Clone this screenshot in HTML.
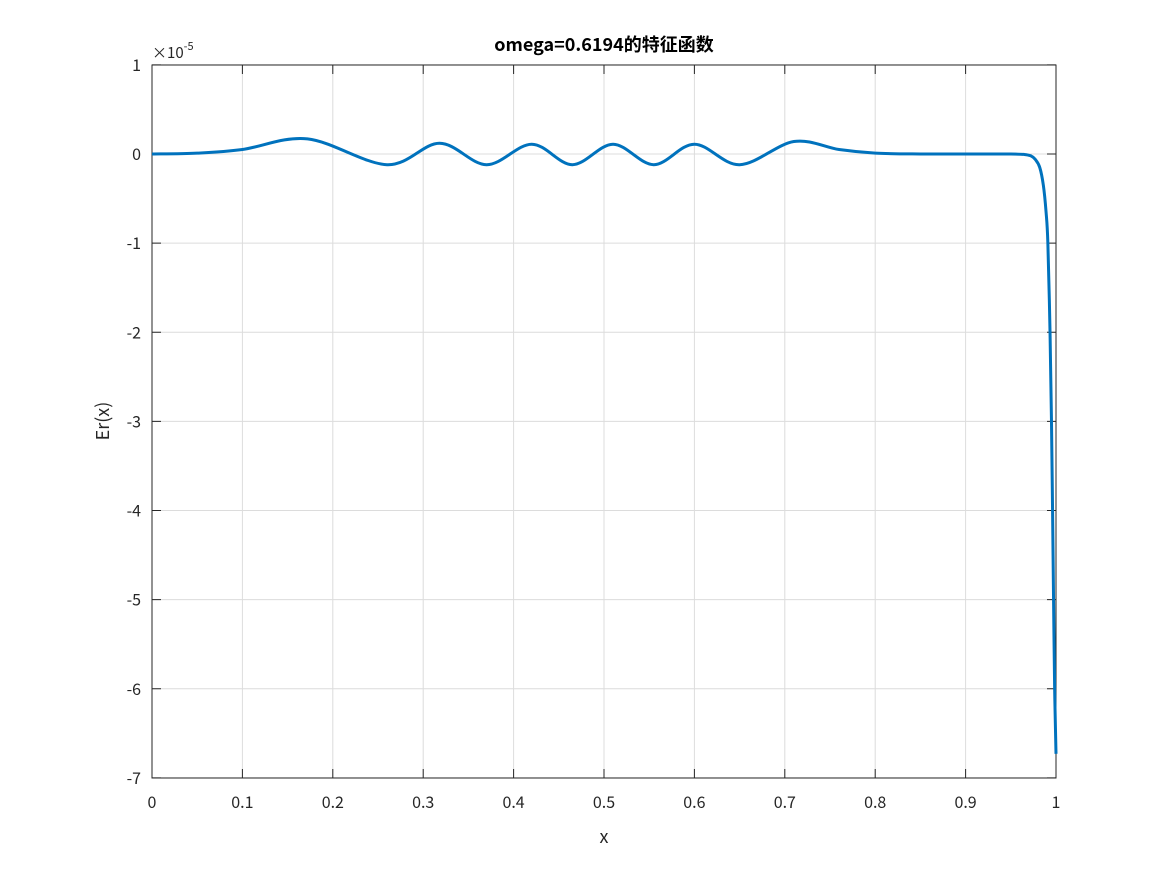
<!DOCTYPE html>
<html><head><meta charset="utf-8"><style>
body{margin:0;background:#fff;}
svg text{font-family:"Noto Sans CJK SC","Liberation Sans",sans-serif;fill:#262626;}
</style></head><body>
<svg width="1167" height="875">
<rect width="1167" height="875" fill="#fff"/>
<g id="grid"></g>
<g id="ticks"></g>
<rect x="152" y="65" width="904" height="713" fill="none" stroke="#262626" stroke-width="1"/>
<path id="curve" fill="none" stroke="#0072bd" stroke-width="3"/>
<text x="604" y="51" text-anchor="middle" font-size="18" font-weight="bold" style="fill:#000">omega=0.6194的特征函数</text>
<text x="604" y="843" text-anchor="middle" font-size="18">x</text>
<text transform="translate(109,421) rotate(-90)" text-anchor="middle" font-size="18">Er(x)</text>
<text x="152" y="58" font-size="15">×10<tspan dy="-8" font-size="11">-5</tspan></text>
</svg>
<script>
const xTicks=[0,0.1,0.2,0.3,0.4,0.5,0.6,0.7,0.8,0.9,1];
const xTickLabels=["0","0.1","0.2","0.3","0.4","0.5","0.6","0.7","0.8","0.9","1"];
const yTicks=[1,0,-1,-2,-3,-4,-5,-6,-7];
const yTickLabels=["1","0","-1","-2","-3","-4","-5","-6","-7"];
const xs=[0,0.05,0.1,0.172,0.26,0.318,0.37,0.42,0.465,0.51,0.555,0.6,0.65,0.71,0.76,0.8,0.85,0.9,0.95,0.965,0.972,0.977,0.982,0.986,0.989,0.991,0.9934,0.995,0.9962,0.9973,0.9985,1.0];
const ys=[0,0.01,0.05,0.17,-0.12,0.12,-0.12,0.11,-0.12,0.11,-0.12,0.11,-0.12,0.14,0.05,0.01,0,0,0,-0.005,-0.02,-0.06,-0.15,-0.35,-0.65,-1.0,-2.0,-3.0,-4.0,-5.0,-6.0,-6.73];
const X=v=>152+v*904, Y=v=>154-v*89.125;
const NS="http://www.w3.org/2000/svg";
const grid=document.getElementById('grid'),ticks=document.getElementById('ticks');
function mk(p,t,a){const e=document.createElementNS(NS,t);for(const k in a)e.setAttribute(k,a[k]);p.appendChild(e);return e;}
xTicks.forEach((v,i)=>{
 const g=mk(grid,'line',{x1:X(v),x2:X(v),y1:65,y2:778,stroke:'#dcdcdc','stroke-width':1});
 
 
 const t=mk(ticks,'line',{x1:X(v),x2:X(v),y1:778,y2:769,stroke:'#262626'});
 
 
 const t2=mk(ticks,'line',{x1:X(v),x2:X(v),y1:65,y2:74,stroke:'#262626'});
 
 
 const l=mk(ticks,'text',{x:X(v),y:808,'text-anchor':'middle','font-size':16});
 l.textContent=xTickLabels[i];
 
 
});
yTicks.forEach((v,i)=>{
 const g=mk(grid,'line',{x1:152,x2:1056,y1:Y(v),y2:Y(v),stroke:'#dcdcdc','stroke-width':1});
 
 
 const t=mk(ticks,'line',{x1:152,x2:161,y1:Y(v),y2:Y(v),stroke:'#262626'});
 
 
 const t2=mk(ticks,'line',{x1:1047,x2:1056,y1:Y(v),y2:Y(v),stroke:'#262626'});
 
 
 const l=mk(ticks,'text',{x:141,y:Y(v)+6,'text-anchor':'end','font-size':16});
 l.textContent=yTickLabels[i];
 
 
});
const P=xs.map((x,i)=>[X(x),Y(ys[i])]);
let d='M'+P[0][0]+','+P[0][1];
for(let i=0;i<P.length-1;i++){
 const p0=P[Math.max(i-1,0)],p1=P[i],p2=P[i+1],p3=P[Math.min(i+2,P.length-1)];
 const c1=[p1[0]+(p2[0]-p0[0])/6,p1[1]+(p2[1]-p0[1])/6],c2=[p2[0]-(p3[0]-p1[0])/6,p2[1]-(p3[1]-p1[1])/6];
 d+=`C${c1[0]},${c1[1]} ${c2[0]},${c2[1]} ${p2[0]},${p2[1]}`;
}
document.getElementById('curve').setAttribute('d',d);
</script>
</body></html>
